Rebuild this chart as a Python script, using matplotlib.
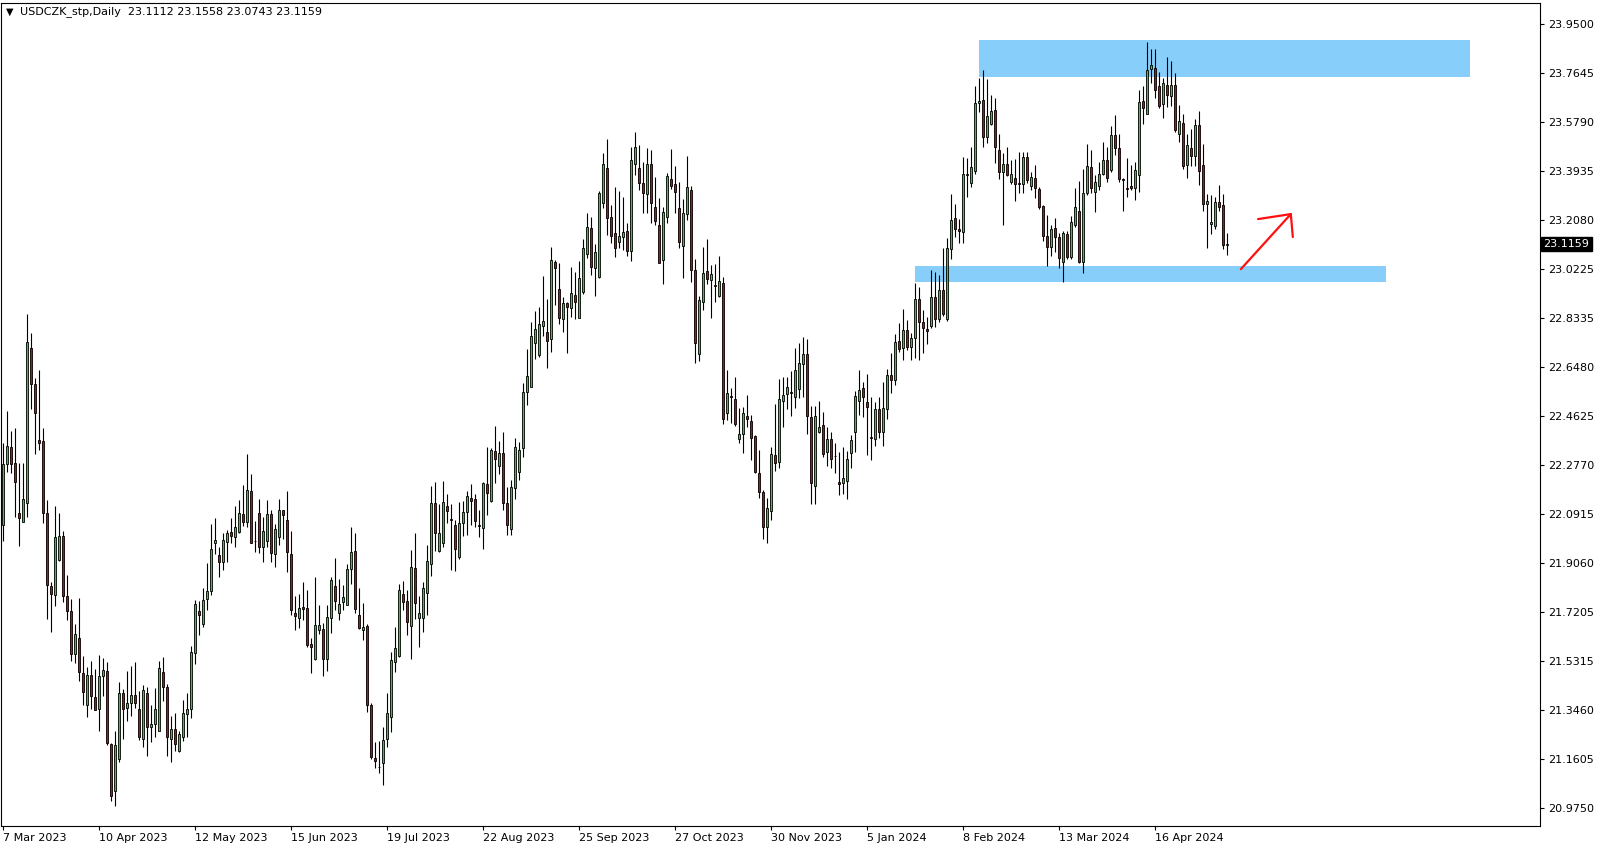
import matplotlib
matplotlib.use("Agg")
import matplotlib.pyplot as plt
from matplotlib.patches import Rectangle
import numpy as np

# header text of the chart window
symbol_text = "USDCZK_stp,Daily  23.1112 23.1558 23.0743 23.1159"

# time axis: one label every 24 daily bars
date_labels = ["7 Mar 2023", "10 Apr 2023", "12 May 2023", "15 Jun 2023", "19 Jul 2023",
               "22 Aug 2023", "25 Sep 2023", "27 Oct 2023", "30 Nov 2023", "5 Jan 2024",
               "8 Feb 2024", "13 Mar 2024", "16 Apr 2024"]
bars_per_label = 24

price_ticks = [23.95, 23.7645, 23.579, 23.3935, 23.208, 23.0225, 22.8335, 22.648,
               22.4625, 22.277, 22.0915, 21.906, 21.7205, 21.5315, 21.346, 21.1605, 20.975]
last_price = 23.1159

# daily OHLC, 7 Mar 2023 .. May 2024
opens = [
    22.05, 22.28, 22.344, 22.283, 22.095, 22.059, 22.131, 22.719, 22.586, 22.371,
    22.367, 22.094, 21.818, 21.785, 21.918, 22.006, 21.781, 21.722, 21.561, 21.619,
    21.489, 21.368, 21.479, 21.395, 21.350, 21.475, 21.495, 21.219, 21.040, 21.162,
    21.410, 21.355, 21.373, 21.403, 21.350, 21.236, 21.411, 21.282, 21.294, 21.267,
    21.491, 21.434, 21.239, 21.274, 21.190, 21.246, 21.332, 21.350, 21.563, 21.722,
    21.675, 21.767, 21.800, 21.980, 21.934, 21.907, 21.986, 22.022, 22.005, 22.022,
    22.090, 22.060, 22.179, 21.988, 22.094, 21.965, 21.990, 22.090, 21.938, 22.003,
    22.105, 22.067, 21.938, 21.714, 21.695, 21.737, 21.733, 21.597, 21.542, 21.649,
    21.654, 21.540, 21.695, 21.818, 21.714, 21.756, 21.745, 21.884, 21.950, 21.707,
    21.652, 21.666, 21.365, 21.164, 21.130, 21.147, 21.236, 21.322, 21.530, 21.552,
    21.786, 21.760, 21.667, 21.885, 21.697, 21.697, 21.790, 21.901, 22.131, 21.951,
    21.979, 22.122, 22.072, 22.051, 21.926, 22.055, 22.099, 22.150, 22.146, 22.049,
    22.036, 22.203, 22.141, 22.330, 22.274, 22.321, 22.131, 22.033, 22.189, 22.252,
    22.340, 22.555, 22.572, 22.741, 22.694, 22.806, 22.780, 22.754, 23.046, 22.944,
    22.830, 22.890, 22.871, 22.922, 22.836, 22.932, 23.076, 23.175, 23.023, 22.992,
    23.270, 23.403, 23.217, 23.156, 23.124, 23.143, 23.165, 23.090, 23.418, 23.403,
    23.346, 23.304, 23.418, 23.255, 23.188, 23.053, 23.219, 23.361, 23.342, 23.251,
    23.109, 23.228, 23.320, 23.016, 22.697, 22.897, 23.012, 22.978, 22.959, 22.919,
    22.966, 22.473, 22.537, 22.527, 22.377, 22.393, 22.463, 22.444, 22.387, 22.245,
    22.176, 22.043, 22.104, 22.315, 22.290, 22.521, 22.545, 22.553, 22.536, 22.564,
    22.659, 22.698, 22.458, 22.199, 22.401, 22.428, 22.328, 22.374, 22.312, 22.214,
    22.210, 22.218, 22.324, 22.403, 22.521, 22.568, 22.515, 22.383, 22.374, 22.489,
    22.403, 22.49, 22.62, 22.60, 22.747, 22.719, 22.791, 22.723, 22.757, 22.905,
    22.818, 22.792, 22.805, 22.916, 22.829, 22.940, 22.832, 23.098, 23.216, 23.171,
    23.162, 23.382, 23.348, 23.393, 23.651, 23.661, 23.522, 23.569, 23.623, 23.474,
    23.389, 23.418, 23.351, 23.365, 23.347, 23.343, 23.444, 23.337, 23.367, 23.323,
    23.259, 23.147, 23.103, 23.175, 23.141, 23.046, 23.154, 23.065, 23.186, 23.241,
    23.049, 23.308, 23.406, 23.314, 23.336, 23.380, 23.433, 23.395, 23.528, 23.479,
    23.361, 23.327, 23.334, 23.327, 23.379, 23.658, 23.607, 23.778, 23.782, 23.715,
    23.645, 23.718, 23.678, 23.718, 23.534, 23.573, 23.415, 23.478, 23.450, 23.567,
    23.415, 23.266, 23.190, 23.185, 23.273, 23.262, 23.1112,
]
highs = [
    22.36, 22.48, 22.407, 22.417, 22.284, 22.284, 22.850, 22.777, 22.608, 22.637,
    22.417, 22.144, 21.832, 22.122, 22.095, 22.025, 21.861, 21.768, 21.675, 21.772,
    21.552, 21.512, 21.535, 21.503, 21.556, 21.545, 21.529, 21.223, 21.266, 21.455,
    21.428, 21.495, 21.515, 21.530, 21.421, 21.442, 21.436, 21.367, 21.430, 21.535,
    21.547, 21.446, 21.325, 21.335, 21.268, 21.386, 21.411, 21.590, 21.765, 21.760,
    21.809, 21.904, 22.053, 22.075, 21.967, 22.018, 22.031, 22.075, 22.122, 22.144,
    22.201, 22.319, 22.243, 22.066, 22.147, 22.079, 22.144, 22.106, 22.053, 22.147,
    22.106, 22.178, 22.027, 21.780, 21.788, 21.833, 21.803, 21.620, 21.853, 21.746,
    21.679, 21.746, 21.850, 21.924, 21.843, 21.822, 21.902, 22.041, 22.019, 21.810,
    21.752, 21.673, 21.373, 21.224, 21.230, 21.284, 21.413, 21.568, 21.661, 21.825,
    21.836, 21.802, 21.954, 22.017, 21.781, 21.831, 21.973, 22.197, 22.212, 22.128,
    22.217, 22.166, 22.128, 22.068, 22.136, 22.141, 22.178, 22.204, 22.166, 22.106,
    22.211, 22.346, 22.340, 22.424, 22.369, 22.403, 22.194, 22.220, 22.378, 22.366,
    22.587, 22.716, 22.821, 22.863, 22.878, 22.994, 22.907, 23.103, 23.055, 23.042,
    22.916, 22.897, 23.027, 23.008, 23.051, 23.135, 23.232, 23.219, 23.116, 23.317,
    23.460, 23.513, 23.262, 23.331, 23.317, 23.293, 23.194, 23.482, 23.540, 23.491,
    23.428, 23.478, 23.472, 23.368, 23.289, 23.257, 23.386, 23.476, 23.411, 23.352,
    23.285, 23.449, 23.335, 23.058, 22.918, 23.103, 23.134, 23.036, 23.038, 23.070,
    22.989, 22.637, 22.568, 22.610, 22.492, 22.498, 22.543, 22.467, 22.391, 22.334,
    22.182, 22.150, 22.347, 22.508, 22.603, 22.612, 22.611, 22.635, 22.720, 22.741,
    22.761, 22.754, 22.501, 22.501, 22.520, 22.479, 22.422, 22.403, 22.359, 22.325,
    22.347, 22.330, 22.391, 22.559, 22.637, 22.591, 22.622, 22.536, 22.517, 22.534,
    22.592, 22.64, 22.70, 22.773, 22.814, 22.868, 22.827, 22.776, 22.969, 22.953,
    22.864, 22.839, 23.016, 23.010, 22.997, 23.102, 23.140, 23.307, 23.269, 23.212,
    23.446, 23.440, 23.482, 23.714, 23.747, 23.775, 23.740, 23.680, 23.671, 23.532,
    23.459, 23.484, 23.434, 23.437, 23.463, 23.463, 23.463, 23.387, 23.415, 23.333,
    23.264, 23.224, 23.188, 23.213, 23.156, 23.166, 23.166, 23.222, 23.327, 23.356,
    23.400, 23.495, 23.472, 23.377, 23.428, 23.504, 23.482, 23.563, 23.605, 23.532,
    23.365, 23.443, 23.415, 23.428, 23.699, 23.716, 23.883, 23.857, 23.857, 23.769,
    23.744, 23.825, 23.809, 23.763, 23.642, 23.607, 23.532, 23.551, 23.588, 23.620,
    23.494, 23.307, 23.303, 23.295, 23.339, 23.307, 23.1558,
]
lows = [
    21.99, 22.25, 22.248, 22.080, 21.971, 22.059, 22.078, 22.488, 22.317, 22.333,
    22.055, 21.694, 21.645, 21.741, 21.911, 21.758, 21.689, 21.535, 21.525, 21.459,
    21.368, 21.322, 21.352, 21.346, 21.269, 21.402, 21.213, 21.002, 20.982, 21.149,
    21.237, 21.306, 21.325, 21.354, 21.234, 21.206, 21.171, 21.227, 21.246, 21.267,
    21.383, 21.173, 21.148, 21.193, 21.186, 21.231, 21.243, 21.315, 21.520, 21.632,
    21.664, 21.727, 21.784, 21.939, 21.850, 21.879, 21.910, 21.982, 21.965, 22.018,
    22.046, 22.041, 21.980, 21.945, 21.942, 21.907, 21.965, 21.907, 21.888, 21.974,
    21.995, 21.869, 21.708, 21.649, 21.660, 21.687, 21.588, 21.489, 21.537, 21.636,
    21.478, 21.497, 21.641, 21.725, 21.687, 21.727, 21.745, 21.824, 21.717, 21.656,
    21.613, 21.341, 21.160, 21.126, 21.110, 21.062, 21.205, 21.265, 21.492, 21.547,
    21.726, 21.631, 21.539, 21.691, 21.587, 21.644, 21.707, 21.855, 21.951, 21.948,
    21.964, 22.058, 21.878, 21.876, 21.921, 22.008, 22.011, 22.049, 22.040, 22.005,
    21.959, 22.087, 22.137, 22.209, 22.242, 22.108, 22.011, 22.011, 22.147, 22.220,
    22.306, 22.505, 22.572, 22.678, 22.686, 22.766, 22.646, 22.705, 22.884, 22.812,
    22.783, 22.703, 22.840, 22.830, 22.836, 22.926, 23.061, 22.998, 22.920, 22.985,
    23.251, 23.150, 23.118, 23.065, 23.099, 23.093, 23.071, 23.052, 23.377, 23.320,
    23.234, 23.234, 23.196, 23.188, 23.042, 22.962, 23.194, 23.323, 23.232, 23.099,
    22.985, 23.206, 22.973, 22.665, 22.673, 22.865, 22.964, 22.833, 22.897, 22.916,
    22.432, 22.448, 22.435, 22.426, 22.362, 22.321, 22.420, 22.296, 22.245, 22.150,
    21.995, 21.982, 22.068, 22.255, 22.267, 22.422, 22.489, 22.464, 22.495, 22.532,
    22.536, 22.395, 22.129, 22.129, 22.397, 22.309, 22.274, 22.264, 22.245, 22.163,
    22.167, 22.149, 22.267, 22.328, 22.465, 22.458, 22.315, 22.296, 22.349, 22.378,
    22.350, 22.45, 22.55, 22.58, 22.706, 22.677, 22.713, 22.677, 22.684, 22.677,
    22.703, 22.735, 22.795, 22.801, 22.820, 22.842, 22.824, 23.058, 23.143, 23.120,
    23.120, 23.294, 23.330, 23.383, 23.617, 23.482, 23.499, 23.566, 23.423, 23.362,
    23.187, 23.373, 23.345, 23.280, 23.310, 23.308, 23.348, 23.320, 23.289, 23.247,
    23.128, 23.033, 23.070, 23.084, 23.023, 22.973, 23.060, 23.060, 23.181, 23.042,
    23.004, 23.302, 23.308, 23.238, 23.320, 23.377, 23.352, 23.388, 23.453, 23.352,
    23.242, 23.293, 23.320, 23.283, 23.311, 23.569, 23.607, 23.725, 23.668, 23.630,
    23.592, 23.636, 23.639, 23.539, 23.503, 23.400, 23.367, 23.412, 23.412, 23.341,
    23.242, 23.102, 23.153, 23.172, 23.242, 23.095, 23.0743,
]
closes = [
    22.28, 22.35, 22.280, 22.211, 22.075, 22.147, 22.742, 22.586, 22.473, 22.361,
    22.094, 21.822, 21.789, 22.002, 22.006, 21.778, 21.722, 21.561, 21.635, 21.492,
    21.415, 21.479, 21.399, 21.346, 21.475, 21.499, 21.223, 21.020, 21.213, 21.412,
    21.352, 21.375, 21.403, 21.373, 21.243, 21.424, 21.282, 21.293, 21.350, 21.506,
    21.436, 21.243, 21.274, 21.217, 21.255, 21.335, 21.350, 21.566, 21.749, 21.706,
    21.764, 21.798, 21.957, 21.991, 21.907, 21.993, 22.018, 22.009, 22.041, 22.094,
    22.062, 22.182, 21.982, 21.989, 21.967, 22.025, 22.090, 21.942, 22.033, 22.105,
    22.086, 21.946, 21.725, 21.702, 21.733, 21.732, 21.595, 21.588, 21.669, 21.669,
    21.540, 21.699, 21.840, 21.759, 21.749, 21.775, 21.881, 21.946, 21.730, 21.660,
    21.661, 21.365, 21.168, 21.152, 21.131, 21.233, 21.334, 21.537, 21.581, 21.802,
    21.758, 21.680, 21.888, 21.755, 21.717, 21.812, 21.911, 22.131, 22.020, 22.017,
    22.135, 22.101, 22.068, 21.960, 22.055, 22.099, 22.158, 22.141, 22.065, 22.046,
    22.207, 22.169, 22.332, 22.298, 22.321, 22.131, 22.049, 22.192, 22.344, 22.334,
    22.555, 22.616, 22.768, 22.792, 22.811, 22.825, 22.749, 23.054, 23.026, 22.836,
    22.890, 22.875, 22.928, 22.897, 22.985, 23.099, 23.181, 23.030, 23.084, 23.308,
    23.418, 23.215, 23.147, 23.099, 23.147, 23.160, 23.090, 23.433, 23.482, 23.346,
    23.308, 23.418, 23.270, 23.201, 23.045, 23.236, 23.373, 23.337, 23.311, 23.122,
    23.232, 23.330, 23.016, 22.739, 22.902, 23.004, 22.981, 23.000, 22.956, 22.974,
    22.450, 22.549, 22.535, 22.432, 22.393, 22.473, 22.450, 22.378, 22.252, 22.176,
    22.043, 22.113, 22.317, 22.286, 22.526, 22.541, 22.572, 22.550, 22.637, 22.663,
    22.698, 22.464, 22.207, 22.462, 22.420, 22.319, 22.374, 22.298, 22.310, 22.206,
    22.226, 22.298, 22.371, 22.538, 22.562, 22.536, 22.498, 22.381, 22.488, 22.403,
    22.493, 22.62, 22.60, 22.744, 22.718, 22.791, 22.723, 22.757, 22.905, 22.820,
    22.795, 22.786, 22.916, 22.829, 22.940, 22.849, 23.102, 23.208, 23.171, 23.163,
    23.383, 23.379, 23.406, 23.652, 23.660, 23.522, 23.603, 23.622, 23.482, 23.389,
    23.418, 23.377, 23.380, 23.343, 23.342, 23.444, 23.358, 23.370, 23.329, 23.257,
    23.147, 23.103, 23.172, 23.141, 23.061, 23.156, 23.068, 23.200, 23.255, 23.047,
    23.308, 23.412, 23.327, 23.350, 23.380, 23.433, 23.365, 23.528, 23.479, 23.361,
    23.358, 23.323, 23.327, 23.395, 23.653, 23.632, 23.774, 23.794, 23.698, 23.640,
    23.728, 23.680, 23.718, 23.549, 23.582, 23.413, 23.491, 23.450, 23.567, 23.393,
    23.266, 23.278, 23.200, 23.273, 23.257, 23.111, 23.1159,
]

# supply / demand zones drawn on the chart: (first bar, last bar, low, high)
upper_zone = (243.9, 366.7, 23.750, 23.889)
lower_zone = (227.9, 345.7, 22.972, 23.032)
# hand-drawn red arrow: shaft start, tip, two head ends (bar, price)
arrow_start = (309.4, 23.020)
arrow_tip = (321.9, 23.229)
arrow_head = [(313.7, 23.210), (322.4, 23.142)]

bull_color = "#22d622"
bear_color = "#e00000"
zone_color = "#87cefa"

fig = plt.figure(figsize=(16.04, 8.5), dpi=100)
ax = fig.add_axes([1 / 1604, 24 / 850, 1539 / 1604, 823 / 850])

o = np.array(opens)
h = np.array(highs)
l = np.array(lows)
c = np.array(closes)
x = np.arange(len(c))
up = c >= o

# zones under the candles
for x0, x1, y0, y1 in (upper_zone, lower_zone):
    ax.add_patch(Rectangle((x0, y0), x1 - x0, y1 - y0, facecolor=zone_color,
                           edgecolor="none", zorder=1))

# candles: black wick + coloured body with black outline
ax.vlines(x, l, h, color="black", linewidth=0.8, zorder=2)
body_low = np.minimum(o, c)
body_h = np.maximum(np.abs(c - o), 0.001)
ax.bar(x, body_h, bottom=body_low, width=0.58,
       color=np.where(up, bull_color, bear_color),
       edgecolor="black", linewidth=0.6, zorder=3)

# red arrow
ax.plot([arrow_start[0], arrow_tip[0]], [arrow_start[1], arrow_tip[1]],
        color="#ff1010", linewidth=1.6, solid_capstyle="round", zorder=4)
for hx, hy in arrow_head:
    ax.plot([hx, arrow_tip[0]], [hy, arrow_tip[1]], color="#ff1010",
            linewidth=1.6, solid_capstyle="round", zorder=4)

ax.set_xlim(-0.575, 384.2)
ax.set_ylim(20.907, 24.030)

# price scale on the right
ax.yaxis.tick_right()
ax.set_yticks(price_ticks)
ax.set_yticklabels([f"{p:.4f}" for p in price_ticks])
ax.tick_params(axis="y", direction="out", length=3, width=0.8, pad=3,
               labelsize=8, colors="black")

# time scale
ax.set_xticks(np.arange(len(date_labels)) * bars_per_label)
ax.set_xticklabels(date_labels, ha="left")
ax.tick_params(axis="x", direction="out", length=3, width=0.8, pad=2,
               labelsize=8, colors="black")

for s in ax.spines.values():
    s.set_linewidth(0.8)
    s.set_color("black")

# current price tag
ax.annotate(f"{last_price:.4f}", xy=(1, last_price),
            xycoords=("axes fraction", "data"), xytext=(2.5, 0),
            textcoords="offset points", ha="left", va="center",
            fontsize=8, color="white", annotation_clip=False,
            bbox=dict(boxstyle="square,pad=0.2", fc="black", ec="black"))

# symbol header
fig.text(6 / 1604, 1 - 12 / 850, "\u25bc", fontsize=7, va="center", ha="left")
fig.text(20 / 1604, 1 - 12 / 850, symbol_text, fontsize=8, va="center", ha="left")

fig.savefig("out.png", dpi=100)
